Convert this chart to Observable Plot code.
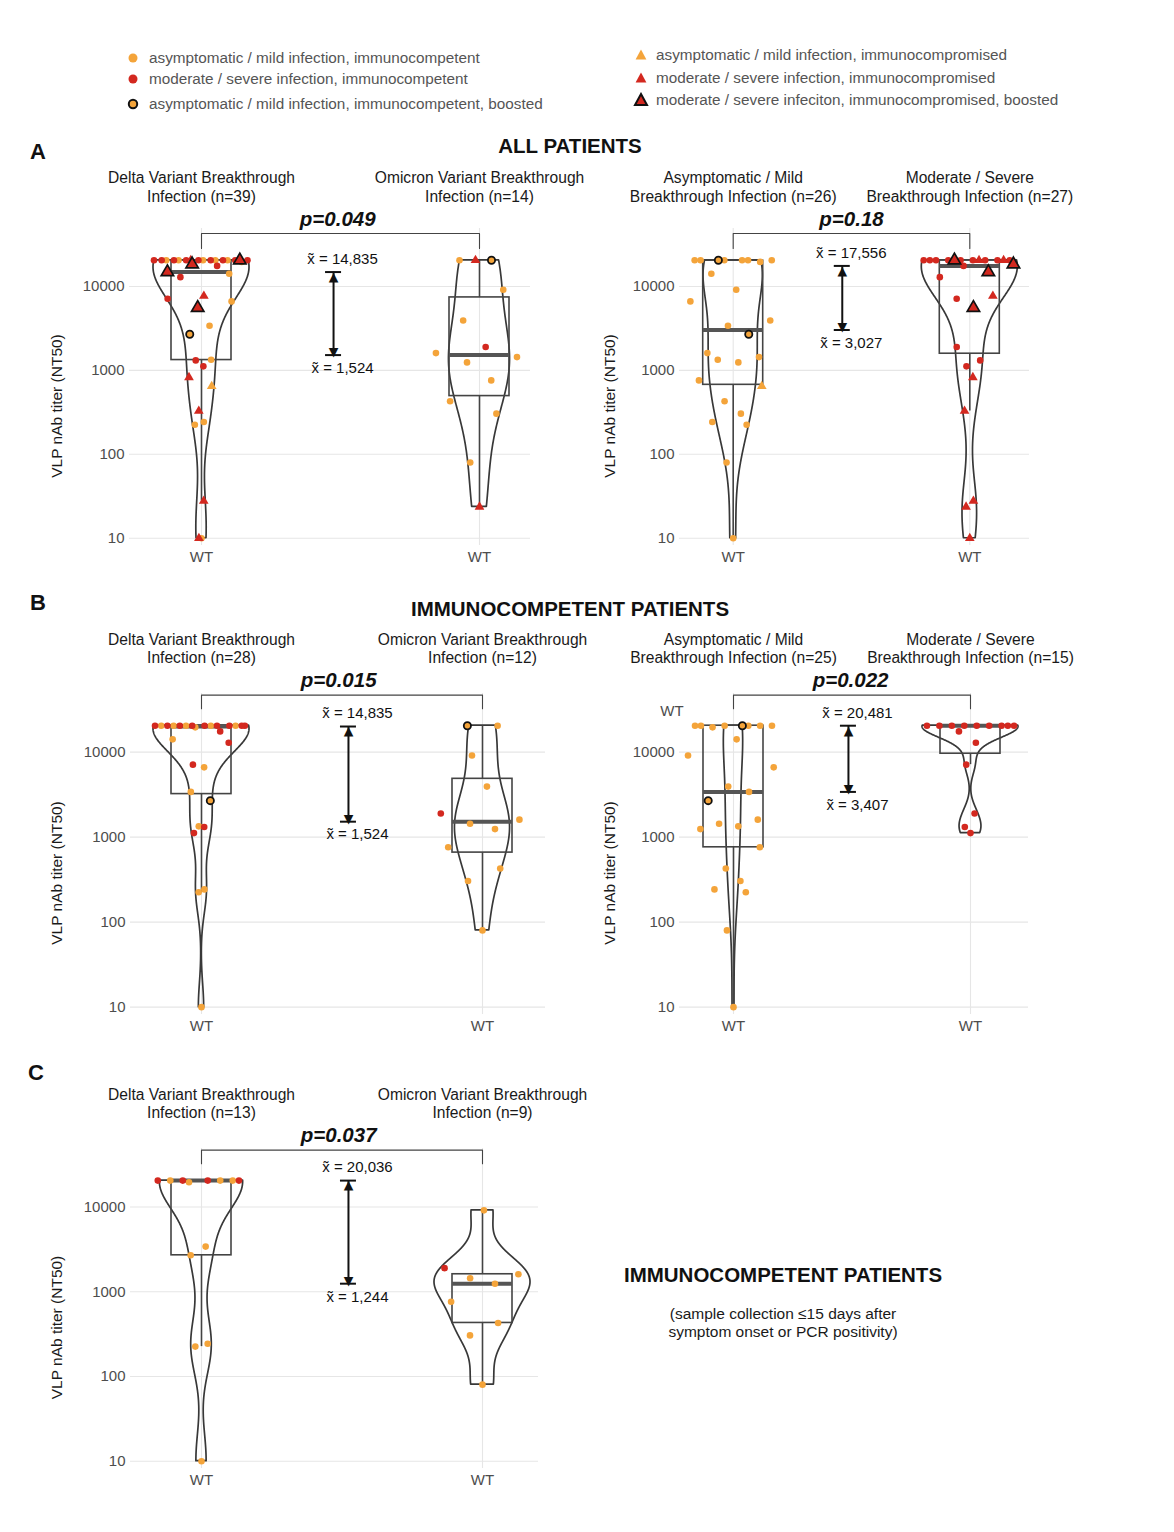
<!DOCTYPE html>
<html><head><meta charset="utf-8">
<script src="https://cdn.jsdelivr.net/npm/d3@7"></script>
<script src="https://cdn.jsdelivr.net/npm/@observablehq/plot@0.6"></script>
<style>
body{margin:0;background:#fff;font-family:"Liberation Sans",Arial,sans-serif;}
#fig{position:relative;width:1174px;height:1532px;overflow:hidden;background:#fff;}
.abs{position:absolute;white-space:nowrap;line-height:1;}
.leg{font-size:15.3px;color:#555;transform:translateY(-50%);}
.ctr{transform:translate(-50%,-50%);}
.hdr{font-weight:bold;font-size:20.5px;color:#111;}
.letter{font-weight:bold;font-size:22px;color:#111;}
svg.panel{position:absolute;}
</style></head><body><div id="fig"></div>
<script>
// ---------------- DATA (VLP nAb titer, NT50) ----------------
const variants = ["Delta", "Omicron"];
// Delta breakthrough infections
const delta_severe_competent       = [20480,20480,20480,20480,20480,20480,20480,20480,20480,17556,12900,7130,1315,1117];
const delta_severe_competent_early = [1,1,1,1,0,0,0,0,0,0,0,0,0,0];
const delta_mild_competent         = [20480,20480,20480,20480,20480,19600,14150,6630,3407,1340,243,225,10];
const delta_mild_competent_early   = [1,1,1,0,0,1,0,0,1,0,1,1,1];
const delta_mild_competent_boosted       = [2690];
const delta_mild_competent_boosted_early = [1];
const delta_mild_compromised             = [646];
const delta_severe_compromised           = [20480,7680,826,328,27.8,10];
const delta_severe_compromised_boosted   = [20480,18400,14835,5570];
// Omicron breakthrough infections
const omicron_severe_competent       = [1897];
const omicron_severe_competent_early = [1];
const omicron_mild_competent         = [20480,9130,3935,1607,1440,1244,760,428,305,80];
const omicron_mild_competent_early   = [0,1,0,1,1,1,1,1,1,1];
const omicron_mild_competent_boosted       = [20480];
const omicron_mild_competent_boosted_early = [0];
const omicron_severe_compromised           = [20480,23.6];

const yTicks = [10, 100, 1000, 10000];
const pValues = ["p=0.049", "p=0.18", "p=0.015", "p=0.022", "p=0.037"];
const medianLabels = [["14,835","1,524"],["17,556","3,027"],["14,835","1,524"],["20,481","3,407"],["20,036","1,244"]];
const legendLeft = ["asymptomatic / mild infection, immunocompetent","moderate / severe infection, immunocompetent","asymptomatic / mild infection, immunocompetent, boosted"];
const legendRight = ["asymptomatic / mild infection, immunocompromised","moderate / severe infection, immunocompromised","moderate / severe infeciton, immunocompromised, boosted"];

// ---------------- build records ----------------
const records = [];
function add(vals, early, variant, severity, immune, boosted){
  vals.forEach((v,i)=>records.push({titer:v, early: early ? !!early[i] : false, variant, severity, immune, boosted, idx: records.length}));
}
add(delta_severe_competent, delta_severe_competent_early, "Delta","severe","competent",false);
add(delta_mild_competent, delta_mild_competent_early, "Delta","mild","competent",false);
add(delta_mild_competent_boosted, delta_mild_competent_boosted_early, "Delta","mild","competent",true);
add(delta_mild_compromised, null, "Delta","mild","compromised",false);
add(delta_severe_compromised, null, "Delta","severe","compromised",false);
add(delta_severe_compromised_boosted, null, "Delta","severe","compromised",true);
add(omicron_severe_competent, omicron_severe_competent_early, "Omicron","severe","competent",false);
add(omicron_mild_competent, omicron_mild_competent_early, "Omicron","mild","competent",false);
add(omicron_mild_competent_boosted, omicron_mild_competent_boosted_early, "Omicron","mild","competent",true);
add(omicron_severe_compromised, null, "Omicron","severe","compromised",false);

// ---------------- styles ----------------
const ORANGE = "#f4a43a", RED = "#d3281f";
const FONT = "Liberation Sans, Arial, sans-serif";
const fig = document.getElementById("fig");

// ---------------- helpers ----------------
function bwNrd0(s){
  const n = s.length, sd = d3.deviation(s);
  const iqr = d3.quantileSorted(s,0.75) - d3.quantileSorted(s,0.25);
  let lo = Math.min(sd, iqr/1.34);
  if (!(lo > 0)) lo = sd || Math.abs(s[0]) || 1;
  return 0.9 * lo * Math.pow(n, -0.2);
}
function kde(s, bw, y){
  let t = 0;
  for (const v of s){ const z = (y - v)/bw; t += Math.exp(-0.5*z*z); }
  return t / (s.length * bw * Math.sqrt(2*Math.PI));
}
function vdc(i){ let r = 0, f = 0.5; while (i > 0){ r += f*(i%2); i = Math.floor(i/2); f /= 2; } return r; }

const VIOLIN_HALF_PX = 48, BOX_HALF_PX = 30, CAP_HALF_PX = 8, POINT_SPREAD_PX = 50;

function panel(cfg){
  const ppu = cfg.cx[1] - cfg.cx[0];
  const stats = cfg.groups.map((g, i) => {
    const s = g.map(d => Math.log10(d.titer)).sort(d3.ascending);
    const q1 = d3.quantileSorted(s,0.25), med = d3.quantileSorted(s,0.5), q3 = d3.quantileSorted(s,0.75);
    const iqr = q3 - q1;
    const lo = d3.min(s.filter(v => v >= q1 - 1.5*iqr)), hi = d3.max(s.filter(v => v <= q3 + 1.5*iqr));
    const bw = bwNrd0(s);
    const grid = d3.range(512).map(k => s[0] + (s[s.length-1]-s[0]) * k/511);
    const dens = grid.map(y => kde(s, bw, y));
    return {i, g, s, q1, med, q3, lo, hi, bw, grid, dens, dmax: d3.max(dens)};
  });
  const dmax = d3.max(stats, st => st.dmax);
  const halfU = d => d / dmax * VIOLIN_HALF_PX / ppu;
  const bh = BOX_HALF_PX / ppu;

  const violins = stats.map(st => st.grid.map((ly, k) => ({y: Math.pow(10, ly), x1: st.i - halfU(st.dens[k]), x2: st.i + halfU(st.dens[k])})));
  const boxes = stats.map(st => ({c: st.i, x1: st.i - bh, x2: st.i + bh,
    q1: Math.pow(10, st.q1), q3: Math.pow(10, st.q3), med: Math.pow(10, st.med),
    lo: Math.pow(10, st.lo), hi: Math.pow(10, st.hi)}));

  // quasirandom-style offsets (group-normalised density x van der Corput)
  const pts = [];
  stats.forEach(st => {
    const ordered = st.g.slice().sort((a,b) => a.titer - b.titer || a.idx - b.idx);
    ordered.forEach((d, r) => {
      const w = kde(st.s, st.bw, Math.log10(d.titer)) / st.dmax * POINT_SPREAD_PX / ppu;
      pts.push({...d, x: st.i + (vdc(r+1) - 0.5) * 2 * w});
    });
  });
  const showB = cfg.boosted !== false;
  const cat = (sev, imm, b) => pts.filter(d => d.severity === sev && d.immune === imm && (showB ? d.boosted === b : true));

  const maxT = d3.max(records, d => d.titer);
  const brY = maxT * Math.pow(10, cfg.brDec), legY = maxT * Math.pow(10, cfg.legDec);
  const bracket = [{x:0,y:legY},{x:0,y:brY},{x:1,y:brY},{x:1,y:legY}];

  const medHi = d3.max(boxes, b => b.med), medLo = d3.min(boxes, b => b.med);
  const ax = cfg.arrowU, cu = CAP_HALF_PX/ppu, lx = ax + 9/ppu;
  const labs = medianLabels[cfg.k];

  const marks = [
    Plot.ruleY(yTicks, {stroke:"#e6e6e6", strokeWidth:1.1}),
    Plot.ruleX([0,1], {stroke:"#e6e6e6", strokeWidth:1.1}),
    ...violins.map(v => Plot.areaX(v, {y:"y", x1:"x1", x2:"x2", fill:"none", stroke:"#383838", strokeWidth:1.7})),
    Plot.ruleX(boxes, {x:"c", y1:"lo", y2:"q1", stroke:"#444", strokeWidth:1.6}),
    Plot.ruleX(boxes, {x:"c", y1:"q3", y2:"hi", stroke:"#444", strokeWidth:1.6}),
    Plot.rect(boxes, {x1:"x1", x2:"x2", y1:"q1", y2:"q3", fill:"none", stroke:"#444", strokeWidth:1.6}),
    Plot.ruleY(boxes, {y:"med", x1:"x1", x2:"x2", stroke:"#555", strokeWidth:4}),
    Plot.dot(cat("mild","competent",false), {x:"x", y:"titer", fill:ORANGE, r:3.3}),
    Plot.dot(cat("severe","competent",false), {x:"x", y:"titer", fill:RED, r:3.3}),
    Plot.dot(cat("mild","compromised",false), {x:"x", y:"titer", fill:ORANGE, r:3.6, symbol:"triangle"}),
    Plot.dot(cat("severe","compromised",false), {x:"x", y:"titer", fill:RED, r:3.6, symbol:"triangle"}),
  ];
  if (showB){
    marks.push(Plot.dot(cat("mild","competent",true), {x:"x", y:"titer", fill:ORANGE, stroke:"#111", strokeWidth:1.8, r:3.6}));
    marks.push(Plot.dot(cat("severe","compromised",true), {x:"x", y:"titer", fill:RED, stroke:"#111", strokeWidth:1.7, r:4.6, symbol:"triangle"}));
  }
  marks.push(
    Plot.line(bracket, {x:"x", y:"y", stroke:"#444", strokeWidth:1.1}),
    Plot.text([{x:cfg.pU}], {x:"x", frameAnchor:"top", lineAnchor:"middle", dy:cfg.pDy, text:()=>pValues[cfg.k], fontSize:20.5, fontWeight:"bold", fontStyle:"italic", fill:"#111"}),
    Plot.text([{x:0, t:cfg.titles[0]}, {x:1, t:cfg.titles[1]}], {x:"x", frameAnchor:"top", lineAnchor:"middle", dy:cfg.titleDy, text:"t", fontSize:15.6, lineHeight:1.2, fill:"#1a1a1a"}),
    Plot.ruleX([{x:ax, y1:medHi, y2:medLo}], {x:"x", y1:"y1", y2:"y2", stroke:"#111", strokeWidth:2}),
    Plot.ruleY([medHi, medLo], {y: d => d, x1: ax - cu, x2: ax + cu, stroke:"#111", strokeWidth:2}),
    Plot.text([{x:ax, y:medHi}], {x:"x", y:"y", text:()=>"\u25B2", lineAnchor:"top", dy:0, fontSize:12.5, fill:"#111", fontFamily:"DejaVu Sans"}),
    Plot.text([{x:ax, y:medLo}], {x:"x", y:"y", text:()=>"\u25BC", lineAnchor:"bottom", dy:1, fontSize:12.5, fill:"#111", fontFamily:"DejaVu Sans"}),
    Plot.text([{x:lx, y:medHi}], {x:"x", y:"y", text:()=>"x\u0303 = " + labs[0], dy:-13, fontSize:15, fill:"#111"}),
    Plot.text([{x:lx, y:medLo}], {x:"x", y:"y", text:()=>"x\u0303 = " + labs[1], dy:13, fontSize:15, fill:"#111"}),
    Plot.text([0], {frameAnchor:"left", textAnchor:"middle", lineAnchor:"middle", rotate:-90, dx:cfg.ylabDx, dy:19, text:()=>"VLP nAb titer (NT50)", fontSize:15.5, fill:"#1a1a1a"})
  );

  const svg = Plot.plot({
    width: cfg.width, height: cfg.height,
    marginLeft: cfg.ml, marginRight: cfg.mr, marginTop: 78, marginBottom: 25,
    style: {fontFamily: FONT, fontSize: "15px", color: "#4d4d4d", background: "none", overflow: "visible"},
    x: {domain:[0,1], range: cfg.cx, ticks:[0,1], tickFormat: () => "WT", tickSize:0, tickPadding:6, label:null},
    y: {type:"log", domain:[8.2, 49000], ticks: yTicks, tickFormat: d => String(d), tickSize:0, tickPadding:5, label:null},
    marks
  });
  svg.classList.add("panel");
  svg.style.left = cfg.left + "px";
  svg.style.top = cfg.top + "px";
  fig.appendChild(svg);
}

// ---------------- groups ----------------
const byVariant = (arr) => variants.map(v => arr.filter(d => d.variant === v));
const bySeverity = (arr) => ["mild","severe"].map(s => arr.filter(d => d.severity === s));
const comp = records.filter(d => d.immune === "competent");
const early = comp.filter(d => d.early);
const vTitles = gs => gs.map((g,i) => `${variants[i]} Variant Breakthrough\nInfection (n=${g.length})`);
const sTitles = gs => [`Asymptomatic / Mild\nBreakthrough Infection (n=${gs[0].length})`, `Moderate / Severe\nBreakthrough Infection (n=${gs[1].length})`];

const gA1 = byVariant(records), gA2 = bySeverity(records), gB1 = byVariant(comp), gB2 = bySeverity(comp), gC = byVariant(early);

panel({k:0, groups:gA1, titles:vTitles(gA1), left:40, top:150, width:550, height:420, ml:89, mr:60, cx:[161,439], arrowU:0.475, pU:0.49, ylabDx:-72, titleDy:-42, pDy:-9, brDec:0.32, legDec:0.14});
panel({k:1, groups:gA2, titles:sTitles(gA2), left:590, top:150, width:510, height:420, ml:89, mr:71, cx:[142.7,379.3], arrowU:0.461, pU:0.5, ylabDx:-69, titleDy:-42, pDy:-9, brDec:0.32, legDec:0.14});
panel({k:2, groups:gB1, titles:vTitles(gB1), left:40, top:615, width:550, height:424, ml:90, mr:45, cx:[161,442], arrowU:0.523, pU:0.488, ylabDx:-73, titleDy:-45.5, pDy:-13, brDec:0.36, legDec:0.2});
panel({k:3, groups:gB2, titles:sTitles(gB2), left:590, top:615, width:510, height:424, ml:89, mr:72, cx:[143,380], arrowU:0.485, pU:0.494, ylabDx:-69, titleDy:-45.5, pDy:-13, brDec:0.36, legDec:0.2});
panel({k:4, groups:gC, titles:vTitles(gC), left:40, top:1070, width:550, height:423, ml:90, mr:52, cx:[161,442], arrowU:0.523, pU:0.488, ylabDx:-73, titleDy:-45.5, pDy:-13, brDec:0.36, legDec:0.2, boosted:false});

// ---------------- HTML text ----------------
function txt(s, x, y, cls, css){
  const d = document.createElement("div");
  d.className = "abs " + cls; d.textContent = s;
  d.style.left = x + "px"; d.style.top = y + "px";
  if (css) Object.assign(d.style, css);
  fig.appendChild(d); return d;
}
function sym(kind, x, y){
  const ns = "http://www.w3.org/2000/svg";
  const s = document.createElementNS(ns, "svg");
  s.setAttribute("width", 16); s.setAttribute("height", 16);
  s.style.position = "absolute"; s.style.left = (x-8) + "px"; s.style.top = (y-8) + "px";
  let el;
  if (kind.shape === "circle"){ el = document.createElementNS(ns, "circle"); el.setAttribute("cx",8); el.setAttribute("cy",8); el.setAttribute("r", kind.stroke ? 4.2 : 4.5); }
  else { el = document.createElementNS(ns, "path"); el.setAttribute("d", kind.stroke ? "M8,2L14,13L2,13Z" : "M8,2.5L13.4,12.6L2.6,12.6Z"); }
  el.setAttribute("fill", kind.fill);
  if (kind.stroke){ el.setAttribute("stroke","#111"); el.setAttribute("stroke-width", 2); }
  s.appendChild(el); fig.appendChild(s);
}
const leftSyms = [{shape:"circle", fill:ORANGE},{shape:"circle", fill:RED},{shape:"circle", fill:ORANGE, stroke:true}];
const rightSyms = [{shape:"tri", fill:ORANGE},{shape:"tri", fill:RED},{shape:"tri", fill:RED, stroke:true}];
[58,79,104].forEach((y,i) => { sym(leftSyms[i], 133, y); txt(legendLeft[i], 149, y, "leg"); });
[55,78,100].forEach((y,i) => { sym(rightSyms[i], 641, y); txt(legendRight[i], 656, y, "leg"); });

txt("A", 38, 152, "letter ctr");
txt("B", 38, 603, "letter ctr");
txt("C", 36, 1073, "letter ctr");
txt("ALL PATIENTS", 570, 146, "hdr ctr");
txt("IMMUNOCOMPETENT PATIENTS", 570, 609, "hdr ctr");
txt("WT", 672, 710, "ctr", {fontSize:"15px", color:"#4d4d4d"});
txt("IMMUNOCOMPETENT PATIENTS", 783, 1275, "hdr ctr");
txt("(sample collection \u226415 days after", 783, 1314, "ctr", {fontSize:"15.5px", color:"#1a1a1a"});
txt("symptom onset or PCR positivity)", 783, 1332, "ctr", {fontSize:"15.5px", color:"#1a1a1a"});
</script></body></html>
